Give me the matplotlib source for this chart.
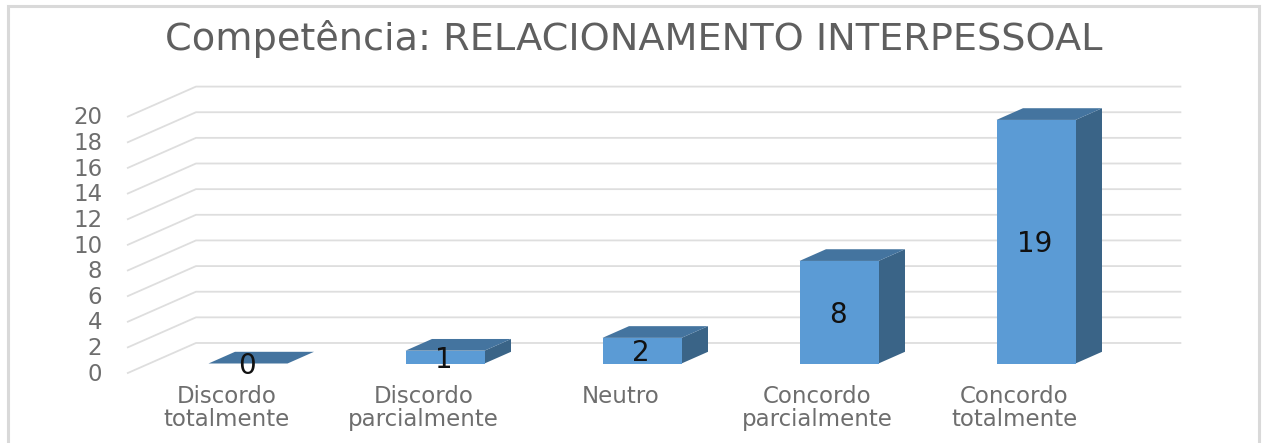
import matplotlib
matplotlib.use('Agg')
import matplotlib.pyplot as plt
from matplotlib.patches import Rectangle

# Chart values
title = 'Competência: RELACIONAMENTO INTERPESSOAL'
categories = ['Discordo\ntotalmente', 'Discordo\nparcialmente', 'Neutro',
              'Concordo\nparcialmente', 'Concordo\ntotalmente']
values = [0, 1, 2, 8, 19]
y_ticks = [0, 2, 4, 6, 8, 10, 12, 14, 16, 18, 20]

W, H = 1262, 443
PX_X = 197.0    # pixels per category
PX_Y = 12.82    # pixels per value unit
X0, Y0 = 248.0, 363.5   # pixel position of category 0, value 0

fig = plt.figure(figsize=(W / 100, H / 100), dpi=100, facecolor='white')
ax = fig.add_axes([0, 0, 1, 1])
ax.set_xlim(-X0 / PX_X, (W - X0) / PX_X)
ax.set_ylim(-(H - Y0) / PX_Y, Y0 / PX_Y)
ax.axis('off')

grid_col = '#dedede'
front_col = '#5b9bd5'
top_col = '#44749f'
side_col = '#3a6487'

# 3D offsets, in axis units
bar_w = 79 / PX_X
bar_dx = 26.5 / PX_X
bar_dy = 11.7 / PX_Y
wall_left = -0.61
wall_back = -0.264
wall_right = 4.733
front_shift = -0.74
back_shift = 1.6

# Gridlines on the back and side walls
for v in y_ticks:
    ax.plot([wall_left, wall_back, wall_right],
            [v + front_shift, v + back_shift, v + back_shift],
            color=grid_col, lw=1.3, solid_joinstyle='miter', zorder=1)
    ax.text(wall_left - 0.13, v + front_shift - 0.1, str(v), ha='right', va='center',
            fontsize=16.5, color='#6e6e6e', zorder=5)

# Bars: side, top and front faces
for i, v in enumerate(values):
    l = i - bar_w / 2
    r = i + bar_w / 2
    ax.fill([r, r + bar_dx, r + bar_dx, r], [0, bar_dy, v + bar_dy, v],
            color=side_col, lw=0, zorder=2)
    ax.fill([l, l + bar_dx, r + bar_dx, r], [v, v + bar_dy, v + bar_dy, v],
            color=top_col, lw=0, zorder=3)
    ax.fill([l, r, r, l], [0, 0, v, v], color=front_col, lw=0, zorder=3)
    ax.text(i - 0.005, v / 2 - 0.2, str(v), ha='center', va='center',
            fontsize=20, color='#111111', zorder=6)

# Category labels
for i, c in enumerate(categories):
    ax.text(i - 0.11, -1.68, c, ha='center', va='top', fontsize=16.5,
            color='#6e6e6e', linespacing=0.98, zorder=5)

ax.text((634 - X0) / PX_X, (Y0 - 39) / PX_Y, title, ha='center', va='center',
        fontsize=27.5, color='#5f5f5f', zorder=5)

# Outer chart frame
frame_col = '#d9d9d9'
fig.patches.append(Rectangle((8 / W, -0.05), (1259 - 8) / W, 1.05 - 6 / H,
                             transform=fig.transFigure, fill=False,
                             edgecolor=frame_col, lw=2.2))

fig.savefig('out.png', dpi=100)
